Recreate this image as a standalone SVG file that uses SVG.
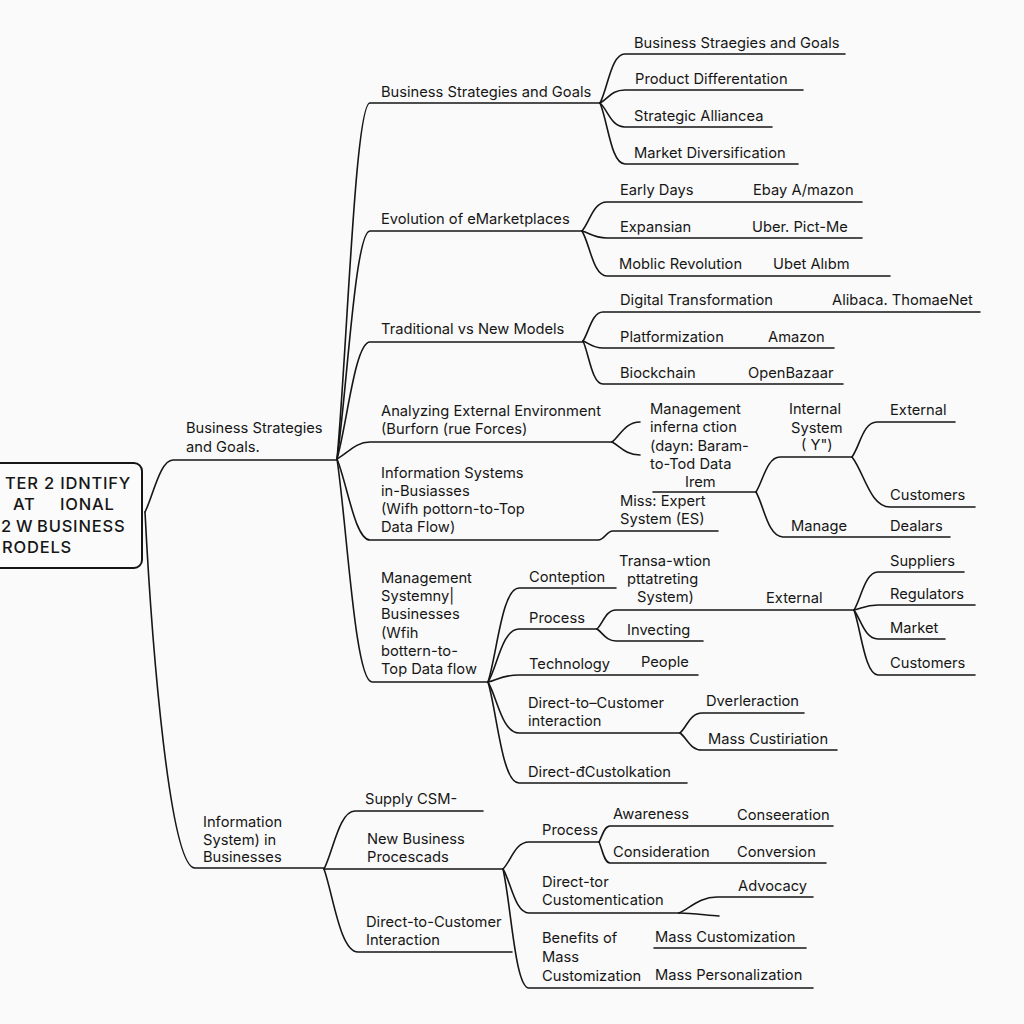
<svg xmlns="http://www.w3.org/2000/svg" width="1024" height="1024" viewBox="0 0 1024 1024">
<style>
.t{font-family:Inter,"Liberation Sans","DejaVu Sans",sans-serif;font-size:14.7px;fill:#161616}
.r{font-family:Inter,"Liberation Sans","DejaVu Sans",sans-serif;font-size:16.5px;font-weight:500;fill:#161616;letter-spacing:0.8px}
.c{fill:none;stroke:#161616;stroke-width:1.6;stroke-linecap:round}
.box{fill:#fbfbfb;stroke:#161616;stroke-width:2}
</style>
<rect x="0" y="0" width="1024" height="1024" fill="#fafafa"/>
<g id="connectors" class="c">
<path d="M145 512 C153 496 160 460 173 460 H337"/>
<path d="M145 512 C152 650 170 868 195 868 H324"/>
<path d="M337 459 C347 352 355 103 370 103 H600"/>
<path d="M337 459 C347 391 355 231 370 231 H582"/>
<path d="M337 459 C347 424 355 342 370 342 H583"/>
<path d="M337 459 C347 454 355 442 370 442 H612"/>
<path d="M337 459 C347 483 355 540 370 540 H598 C605 540 606 531 613 531 H718"/>
<path d="M337 459 C347 526 355 682 372 682 H488"/>
<path d="M600 103 C608 88 611 54 625 54 H845"/>
<path d="M600 103 C608 99 611 90 625 90 H803"/>
<path d="M600 103 C608 110 611 127 625 127 H772"/>
<path d="M600 103 C608 122 611 164 625 164 H798"/>
<path d="M582 231 C590 222 593 202 607 202 H862"/>
<path d="M582 231 C590 233 593 238 607 238 H862"/>
<path d="M582 231 C590 244 593 276 607 276 H890"/>
<path d="M583 341 C589 332 592 312 603 312 H980"/>
<path d="M583 341 C589 343 592 348 603 348 H834"/>
<path d="M583 341 C589 354 592 384 603 384 H843"/>
<path d="M612 442 C620 436 625 422 640 422"/>
<path d="M612 442 C620 446 625 455 640 455"/>
<path d="M653 492 H756"/>
<path d="M756 492 C763 481 767 457 780 457 H852"/>
<path d="M756 492 C764 506 768 537 783 537 H950"/>
<path d="M852 457 C860 446 863 422 877 422 H955"/>
<path d="M852 457 C864 472 870 507 890 507 H975"/>
<path d="M488 682 C497 654 502 588 519 588 H616"/>
<path d="M488 682 C497 668 502 629 519 629 H597"/>
<path d="M488 682 C497 680 502 675 519 675 H698"/>
<path d="M488 682 C497 697 502 733 519 733 H680"/>
<path d="M488 682 C497 712 502 783 519 783 H687"/>
<path d="M597 629 C603 623 606 610 616 610 H854"/>
<path d="M597 629 C603 633 606 641 616 641 H703"/>
<path d="M854 610 C861 599 865 572 878 572 H964"/>
<path d="M854 610 C861 609 865 605 878 605 H975"/>
<path d="M854 610 C861 620 865 639 878 639 H945"/>
<path d="M854 610 C861 630 865 675 878 675 H975"/>
<path d="M680 733 C687 727 690 713 702 713 H804"/>
<path d="M680 733 C687 738 690 750 702 750 H837"/>
<path d="M324 869 C333 852 339 811 355 811 H483"/>
<path d="M324 869 H503"/>
<path d="M324 869 C333 894 340 952 358 952 H512"/>
<path d="M503 869 C511 861 515 842 529 842 H599"/>
<path d="M503 869 C511 882 515 913 529 913 H679"/>
<path d="M503 869 C511 904 515 988 529 988 H813"/>
<path d="M599 842 C602 837 604 826 610 826 H833"/>
<path d="M599 842 C602 848 604 863 610 863 H826"/>
<path d="M679 913 C690 908 700 897 717 897 H813"/>
<path d="M679 913 C692 913 705 915 719 916"/>
<path d="M654 948 H806"/>
</g>
<g id="root">
<rect class="box" x="-10" y="463" width="152" height="105" rx="8"/>
<text class="r" x="5" y="489">TER 2 IDNTIFY</text>
<text class="r" y="510"><tspan x="13">AT</tspan><tspan x="60">IONAL</tspan></text>
<text class="r" y="532"><tspan x="1">2</tspan><tspan x="16">W</tspan><tspan x="37">BUSINESS</tspan></text>
<text class="r" x="2" y="553">RODELS</text>
</g>
<g id="n-bsg-main"><text class="t" x="186" y="433">Business Strategies</text><text class="t" x="186" y="452">and Goals.</text></g>
<g id="n-infosys-main"><text class="t" x="203" y="827">Information</text><text class="t" x="203" y="845">System) in</text><text class="t" x="203" y="862">Businesses</text></g>
<g id="n-bsg"><text class="t" x="381" y="97">Business Strategies and Goals</text></g>
<g id="n-bsg1"><text class="t" x="634" y="48">Business Straegies and Goals</text></g>
<g id="n-bsg2"><text class="t" x="635" y="84">Product Differentation</text></g>
<g id="n-bsg3"><text class="t" x="634" y="121">Strategic Alliancea</text></g>
<g id="n-bsg4"><text class="t" x="634" y="158">Market Diversification</text></g>
<g id="n-evo"><text class="t" x="381" y="224">Evolution of eMarketplaces</text></g>
<g id="n-evo1"><text class="t" x="620" y="195">Early Days</text><text class="t" x="753" y="195">Ebay A/mazon</text></g>
<g id="n-evo2"><text class="t" x="620" y="232">Expansian</text><text class="t" x="752" y="232">Uber. Pict-Me</text></g>
<g id="n-evo3"><text class="t" x="619" y="269">Moblic Revolution</text><text class="t" x="773" y="269">Ubet Alıbm</text></g>
<g id="n-trad"><text class="t" x="381" y="334">Traditional vs New Models</text></g>
<g id="n-trad1"><text class="t" x="620" y="305">Digital Transformation</text><text class="t" x="832" y="305">Alibaca. ThomaeNet</text></g>
<g id="n-trad2"><text class="t" x="620" y="342">Platformization</text><text class="t" x="768" y="342">Amazon</text></g>
<g id="n-trad3"><text class="t" x="620" y="378">Biockchain</text><text class="t" x="748" y="378">OpenBazaar</text></g>
<g id="n-ana"><text class="t" x="381" y="416">Analyzing External Environment</text><text class="t" x="381" y="434">(Burforn (rue Forces)</text></g>
<g id="n-mis"><text class="t" x="650" y="414">Management</text><text class="t" x="650" y="432">inferna ction</text><text class="t" x="650" y="451">(dayn: Baram-</text><text class="t" x="650" y="469">to-Tod Data</text><text class="t" x="685" y="487">Irem</text></g>
<g id="n-internal"><text class="t" x="789" y="414">Internal</text><text class="t" x="791" y="433">System</text><text class="t" x="801" y="450">( Y")</text></g>
<g id="n-ext1"><text class="t" x="890" y="415">External</text></g>
<g id="n-cust1"><text class="t" x="890" y="500">Customers</text></g>
<g id="n-is"><text class="t" x="381" y="478">Information Systems</text><text class="t" x="381" y="496">in-Busiasses</text><text class="t" x="381" y="514">(Wifh pottorn-to-Top</text><text class="t" x="381" y="532">Data Flow)</text></g>
<g id="n-es"><text class="t" x="620" y="506">Miss: Expert</text><text class="t" x="620" y="524">System (ES)</text></g>
<g id="n-manage"><text class="t" x="791" y="531">Manage</text><text class="t" x="890" y="531">Dealars</text></g>
<g id="n-ms"><text class="t" x="381" y="583">Management</text><text class="t" x="381" y="601">Systemny|</text><text class="t" x="381" y="619">Businesses</text><text class="t" x="381" y="638">(Wfih</text><text class="t" x="381" y="656">bottern-to-</text><text class="t" x="381" y="674">Top Data flow</text></g>
<g id="n-cont"><text class="t" x="529" y="582">Conteption</text></g>
<g id="n-tps"><text class="t" x="619" y="566">Transa-wtion</text><text class="t" x="627" y="584">pttatreting</text><text class="t" x="637" y="602">System)</text></g>
<g id="n-proc1"><text class="t" x="529" y="623">Process</text></g>
<g id="n-ext2"><text class="t" x="766" y="603">External</text></g>
<g id="n-inv"><text class="t" x="627" y="635">Invecting</text></g>
<g id="n-tech"><text class="t" x="529" y="669">Technology</text><text class="t" x="641" y="667">People</text></g>
<g id="n-sup"><text class="t" x="890" y="566">Suppliers</text></g>
<g id="n-reg"><text class="t" x="890" y="599">Regulators</text></g>
<g id="n-mkt"><text class="t" x="890" y="633">Market</text></g>
<g id="n-cust2"><text class="t" x="890" y="668">Customers</text></g>
<g id="n-dtc1"><text class="t" x="528" y="708">Direct-to–Customer</text><text class="t" x="528" y="726">interaction</text></g>
<g id="n-dver"><text class="t" x="706" y="706">Dverleraction</text></g>
<g id="n-masscu"><text class="t" x="708" y="744">Mass Custiriation</text></g>
<g id="n-dcust"><text class="t" x="528" y="777">Direct-đCustolkation</text></g>
<g id="n-supply"><text class="t" x="365" y="804">Supply CSM-</text></g>
<g id="n-nbp"><text class="t" x="367" y="844">New Business</text><text class="t" x="367" y="862">Procescads</text></g>
<g id="n-dtc2"><text class="t" x="366" y="927">Direct-to-Customer</text><text class="t" x="366" y="945">Interaction</text></g>
<g id="n-proc2"><text class="t" x="542" y="835">Process</text></g>
<g id="n-aw"><text class="t" x="613" y="819">Awareness</text><text class="t" x="737" y="820">Conseeration</text></g>
<g id="n-cons"><text class="t" x="613" y="857">Consideration</text><text class="t" x="737" y="857">Conversion</text></g>
<g id="n-dtor"><text class="t" x="542" y="887">Direct-tor</text><text class="t" x="542" y="905">Customentication</text></g>
<g id="n-adv"><text class="t" x="738" y="891">Advocacy</text></g>
<g id="n-ben"><text class="t" x="542" y="943">Benefits of</text><text class="t" x="542" y="962">Mass</text><text class="t" x="542" y="981">Customization</text></g>
<g id="n-mc"><text class="t" x="655" y="942">Mass Customization</text><text class="t" x="655" y="980">Mass Personalization</text></g>
</svg>
